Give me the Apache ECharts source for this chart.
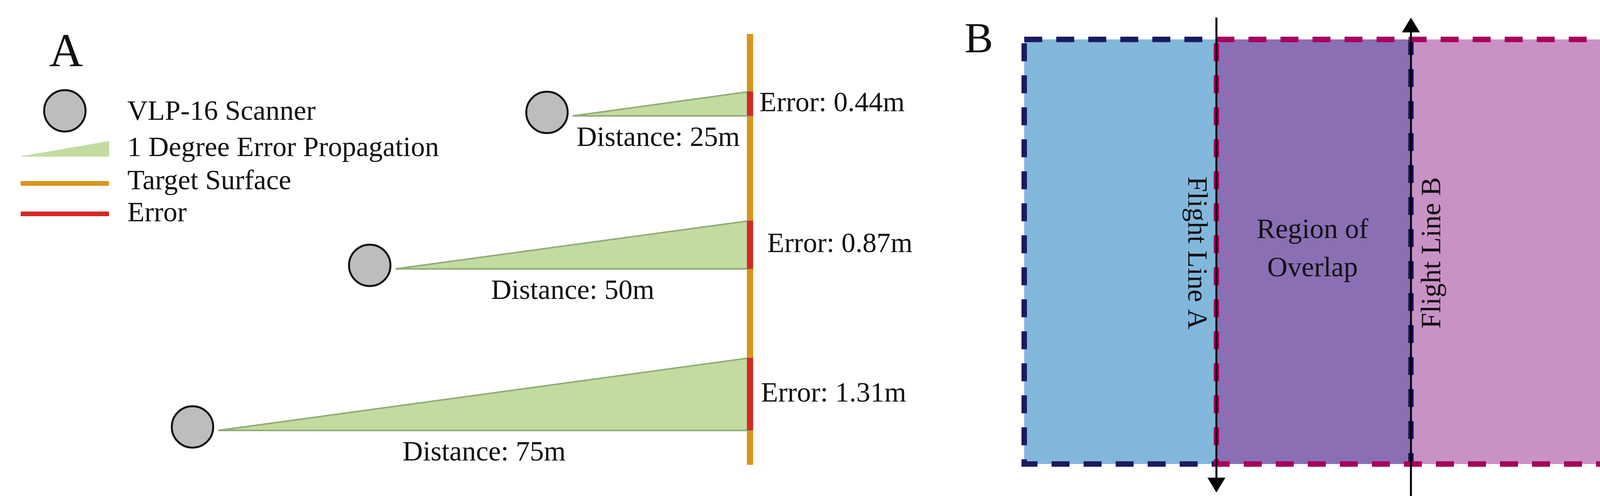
<!DOCTYPE html>
<html>
<head>
<meta charset="utf-8">
<script src="https://cdn.jsdelivr.net/npm/echarts@6/dist/echarts.min.js"></script>
<style>html,body{margin:0;padding:0;background:#fff}#chart{width:4168px;height:1271px}</style>
</head>
<body>
<div id="chart"></div>
<script>
// panel A: scanner distances (m) and the resulting 1 degree error (m)
var distances = [25, 50, 75];
var errors = [0.44, 0.87, 1.31];
var baseY = [297, 689, 1103];       // beam baseline for each scanner
var errorLabelX = [1944, 1964, 1948];
var targetX = 1920;
var pxPerM = 18.15;                // horizontal scale of panel A
var pxPerErr = 142;                // vertical (exaggerated) scale of the error

// panel B: flight strips
var stripA = [2622, 3114];
var stripB = [3114, 4104];
var stripTop = 101, stripBottom = 1189;
var flightLineX = [3114, 3612];

var FONT = '"Liberation Serif", "DejaVu Serif", serif';

function rectOf(api, x0, y0, x1, y1) {
    var a = api.coord([x0, y0]), b = api.coord([x1, y1]);
    return {x: a[0], y: a[1], width: b[0] - a[0], height: b[1] - a[1]};
}

function renderTriangle(params, api) {
    var i = params.dataIndex;
    var d = api.value(0), e = api.value(1), y = api.value(2);
    var tipX = targetX - d * pxPerM;
    var topY = y - e * pxPerErr;
    return {
        type: 'group',
        children: [
            {type: 'polygon', shape: {points: [api.coord([tipX, y]), api.coord([targetX, topY]), api.coord([targetX, y])]},
             style: {fill: '#c3dba1', stroke: '#8fae78', lineWidth: 4}},
            {type: 'line', z2: 10, shape: (function () {
                var a = api.coord([targetX, topY]), b = api.coord([targetX, y]);
                return {x1: a[0], y1: a[1], x2: b[0], y2: b[1]};
            })(), style: {stroke: '#d42a24', lineWidth: 16}},
            {type: 'text', x: api.coord([errorLabelX[i], 0])[0], y: api.coord([0, (y + topY) / 2])[1],
             style: {text: 'Error: ' + errors[i].toFixed(2) + 'm', font: '72px ' + FONT, fill: '#111', verticalAlign: 'middle'}}
        ]
    };
}

function renderDistance(params, api) {
    var d = api.value(0), y = api.value(1);
    var tipX = targetX - d * pxPerM;
    var cx = params.dataIndex === 0 ? 1685 : (tipX + targetX) / 2;
    var p = api.coord([cx, y + 58]);
    return {type: 'text', x: p[0], y: p[1],
            style: {text: 'Distance: ' + d + 'm', font: '72px ' + FONT, fill: '#111', align: 'center', verticalAlign: 'middle'}};
}

function renderStrips(params, api) {
    var dash = [46, 36];
    var a = rectOf(api, stripA[0], stripTop, stripA[1], stripBottom);
    var b = rectOf(api, stripB[0], stripTop, stripB[1], stripBottom);
    var o = rectOf(api, stripB[0], stripTop, flightLineX[1], stripBottom);
    return {
        type: 'group',
        children: [
            {type: 'rect', shape: a, style: {fill: '#82b7dc'}},
            {type: 'rect', shape: b, style: {fill: '#c892c5'}},
            {type: 'rect', shape: o, style: {fill: '#8a6fb5'}},
            {type: 'rect', shape: rectOf(api, stripA[0], stripTop, flightLineX[1], stripBottom),
             style: {fill: null, stroke: '#1c1a60', lineWidth: 14, lineDash: dash}},
            {type: 'rect', shape: b, style: {fill: null, stroke: '#a8005e', lineWidth: 14, lineDash: dash}}
        ]
    };
}

function renderFlightLine(params, api) {
    var x = api.value(0), dir = api.value(1); // dir 1 = down, -1 = up
    var top = api.coord([x, 45]), bot = api.coord([x, 1262]);
    var tip = dir > 0 ? bot : top;
    var back = tip[1] - dir * 38;
    return {
        type: 'group',
        children: [
            {type: 'line', shape: {x1: top[0], y1: dir > 0 ? top[1] : top[1] + 30, x2: bot[0], y2: dir > 0 ? bot[1] - 30 : 1271},
             style: {stroke: '#000', lineWidth: 5}},
            {type: 'polygon', shape: {points: [[tip[0], tip[1]], [tip[0] - 23, back], [tip[0] + 23, back]]}, style: {fill: '#000'}}
        ]
    };
}

var chart = echarts.init(document.getElementById('chart'), null, {renderer: 'canvas'});
chart.setOption({
    animation: false,
    backgroundColor: '#fff',
    grid: {left: 0, right: 0, top: 0, bottom: 0},
    xAxis: {type: 'value', min: 0, max: 4168, show: false},
    yAxis: {type: 'value', min: 0, max: 1271, inverse: true, show: false},
    series: [
        {type: 'line', data: [[targetX, 87], [targetX, 1191]], symbol: 'none', z: 1,
         lineStyle: {color: '#d99419', width: 16}},
        {type: 'custom', z: 2, renderItem: renderTriangle,
         data: distances.map(function (d, i) { return [d, errors[i], baseY[i]]; })},
        {type: 'custom', z: 2, renderItem: renderDistance,
         data: distances.map(function (d, i) { return [d, baseY[i]]; })},
        {type: 'scatter', z: 3, symbolSize: 106,
         itemStyle: {color: '#bdbdbd', borderColor: '#111', borderWidth: 5, opacity: 1},
         data: distances.map(function (d, i) { return [targetX - d * pxPerM - 66, baseY[i] - 9]; })
            .concat([[166, 284]])},
        {type: 'custom', z: 1, renderItem: renderStrips, data: [[0]]},
        {type: 'custom', z: 4, renderItem: renderFlightLine, data: [[flightLineX[0], 1], [flightLineX[1], -1]]}
    ],
    graphic: [
        {type: 'text', left: 126, top: 78, style: {text: 'A', font: '120px ' + FONT, fill: '#111'}},
        {type: 'text', left: 2469, top: 50, style: {text: 'B', font: '110px ' + FONT, fill: '#111'}},
        {type: 'text', x: 326, y: 288, style: {text: 'VLP-16 Scanner', font: '72px ' + FONT, fill: '#111', verticalAlign: 'middle'}},
        {type: 'polygon', shape: {points: [[53, 401], [279, 362], [279, 401]]}, style: {fill: '#c3dba1', stroke: '#c3dba1'}},
        {type: 'text', x: 326, y: 381, style: {text: '1 Degree Error Propagation', font: '72px ' + FONT, fill: '#111', verticalAlign: 'middle'}},
        {type: 'line', shape: {x1: 53, y1: 470, x2: 279, y2: 470}, style: {stroke: '#d99419', lineWidth: 12}},
        {type: 'text', x: 326, y: 466, style: {text: 'Target Surface', font: '72px ' + FONT, fill: '#111', verticalAlign: 'middle'}},
        {type: 'line', shape: {x1: 53, y1: 548, x2: 279, y2: 548}, style: {stroke: '#d42a24', lineWidth: 12}},
        {type: 'text', x: 326, y: 548, style: {text: 'Error', font: '72px ' + FONT, fill: '#111', verticalAlign: 'middle'}},
        {type: 'text', x: 3061, y: 648, rotation: -Math.PI / 2, z: 10,
         style: {text: 'Flight Line A', font: '72px ' + FONT, fill: '#111', align: 'center', verticalAlign: 'middle'}},
        {type: 'text', x: 3668, y: 648, rotation: Math.PI / 2, z: 10,
         style: {text: 'Flight Line B', font: '72px ' + FONT, fill: '#111', align: 'center', verticalAlign: 'middle'}},
        {type: 'text', x: 3360, y: 640, z: 10,
         style: {text: 'Region of\nOverlap', font: '72px ' + FONT, lineHeight: 98, fill: '#111', align: 'center', verticalAlign: 'middle'}}
    ]
});
</script>
</body>
</html>
